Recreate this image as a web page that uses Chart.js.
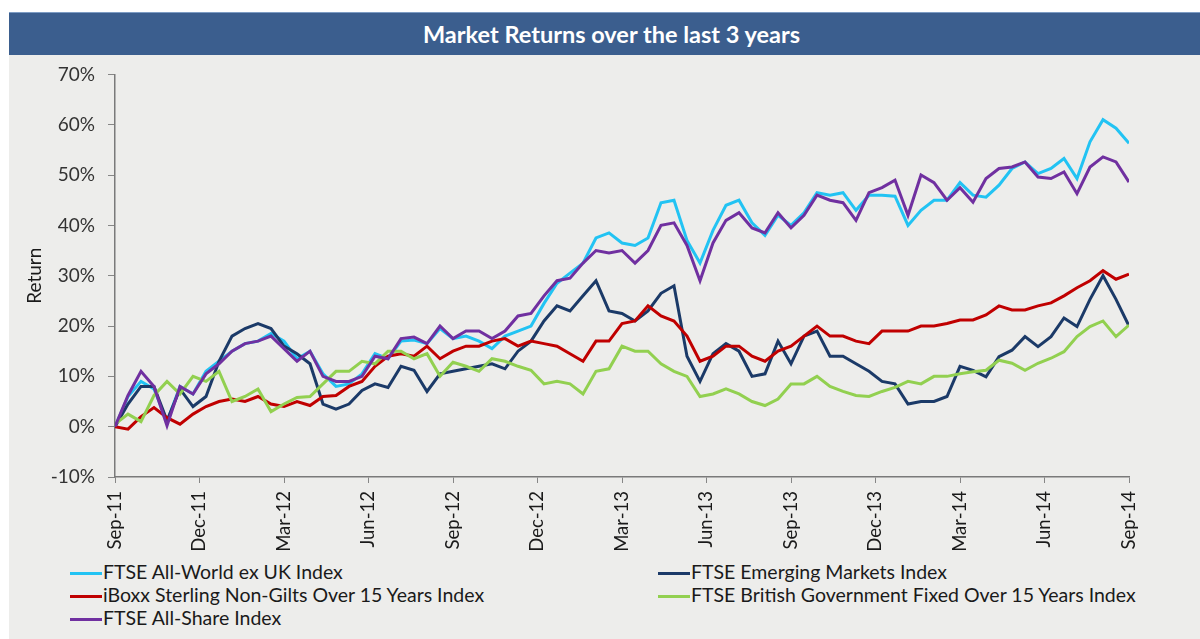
<!DOCTYPE html>
<html>
<head>
<meta charset="utf-8">
<script src="https://cdn.jsdelivr.net/npm/chart.js@4"></script>
<style>
  body { margin: 0; background: #fff; width: 1200px; height: 639px; overflow: hidden; position: relative; font-family: Lato, "Open Sans", sans-serif; }
  #frame { position: absolute; left: 9px; top: 12px; width: 1191px; height: 627px; background: #ededeb; }
  #title { position: absolute; left: 9px; top: 12px; width: 1191px; height: 43px; background: #3b5e8e; border-top: 1px solid #7d9cc4;
           color: #fff; font-weight: bold; font-size: 23.5px; line-height: 42px; text-align: center; padding-left: 14px; box-sizing: border-box; }
  #wrap { position: absolute; left: 0; top: 50px; width: 1200px; height: 510px; }
  .leg { position: absolute; font-size: 19.5px; color: #1a1a1a; line-height: 20px; white-space: nowrap; }
  .leg span.ln { display: inline-block; width: 32px; height: 3px; vertical-align: middle; margin-right: 1px; position: relative; top: -1px; }
</style>
</head>
<body>
<div id="frame"></div>
<div id="title">Market Returns over the last 3 years</div>
<div id="wrap"><canvas id="myChart" width="1200" height="510"></canvas></div>
<div id="legend"></div>
<script>
// quarter labels on the x axis (one every 13 weeks)
var quarters = ["Sep-11", "Dec-11", "Mar-12", "Jun-12", "Sep-12", "Dec-12", "Mar-13",
  "Jun-13", "Sep-13", "Dec-13", "Mar-14", "Jun-14", "Sep-14"];

// cumulative return in %, one value every 2 weeks from Sep-11
var allWorld = [0, 6, 9, 7.5, 1, 8, 6.5, 11, 13, 15, 16.5, 17, 18.5, 17,
  13.5, 15, 10.5, 8, 8.5, 10.5, 14.5, 13.5, 17, 17.2, 16.5, 19.5,
  17.5, 18, 17, 15.5, 18, 19, 20, 24.5, 28.5, 30.5, 32.5, 37.5, 38.5,
  36.5, 36, 37.5, 44.5, 45, 37, 32.5, 39, 44, 45, 40.5, 38, 42,
  40, 42.5, 46.5, 46, 46.5, 43, 46, 46, 45.8, 40, 43, 45, 45,
  48.5, 46, 45.6, 48, 51.3, 52.6, 50.3, 51.3, 53.3, 49.3, 56.6, 61, 59.3, 56.3];

var emerging = [0, 4.5, 8, 8, 1.2, 7.5, 4, 6, 13, 18, 19.5, 20.5, 19.5, 16,
  14.5, 12.5, 4.5, 3.5, 4.5, 7.2, 8.5, 7.8, 12, 11.2, 7, 10.5,
  11, 11.5, 12, 12.5, 11.5, 15, 17, 21, 24, 23, 26, 29, 23,
  22.5, 21, 23, 26.5, 28, 14, 9, 14.5, 16.5, 15, 10, 10.5, 17,
  12.5, 18, 19, 14, 14, 12.5, 11, 9, 8.5, 4.5, 5, 5, 6,
  12, 11.2, 9.9, 13.9, 15.2, 17.9, 15.9, 17.9, 21.6, 19.9, 25.3, 30, 25.3, 20];

var nonGilts = [0, -0.5, 2, 3.8, 1.8, 0.5, 2.5, 4, 5, 5.5, 5, 6, 4.5, 4,
  5, 4.2, 6, 6.2, 8, 9, 12, 14, 14.5, 14, 16, 13.5,
  15, 16, 16, 17, 17.5, 16, 17, 16.5, 16, 14.5, 13, 17, 17,
  20.5, 21, 24, 22, 21, 18, 13, 14, 16, 16, 14, 13, 15,
  16, 18, 20, 18, 18, 17, 16.5, 19, 19, 19, 20, 20, 20.5,
  21.2, 21.2, 22.2, 24, 23.2, 23.2, 24, 24.6, 26, 27.6, 29, 31, 29.3, 30.3];

var gilts = [0.5, 2.5, 1, 6.2, 9, 6.5, 10, 9, 11, 5, 6, 7.5, 3, 4.5,
  5.8, 6, 8.5, 11, 11, 13, 12.5, 15, 15, 13.5, 14.5, 10,
  12.8, 12, 11, 13.5, 13, 12, 11.2, 8.5, 9, 8.5, 6.5, 11, 11.5,
  16, 15, 15, 12.5, 11, 10, 6, 6.5, 7.5, 6.5, 5, 4.2, 5.5,
  8.5, 8.5, 10, 8, 7, 6.2, 6, 7, 7.8, 9, 8.5, 10, 10,
  10.5, 10.9, 11.2, 13.2, 12.6, 11.2, 12.6, 13.6, 14.9, 17.9, 19.9, 21, 17.9, 20.2];

var allShare = [0, 6.2, 11, 8, 0.2, 8, 6.5, 10.5, 12.5, 15, 16.5, 17, 18, 15.5,
  13, 15, 10, 9, 9, 10, 14, 13.5, 17.5, 17.8, 16.5, 20,
  17.5, 19, 19, 17.5, 19, 22, 22.5, 26, 29, 29.5, 32.5, 35, 34.5,
  35, 32.5, 35, 40, 40.5, 36, 29, 36.5, 41, 42.5, 39.5, 38.5, 42.5,
  39.5, 42, 46, 45, 44.5, 41, 46.5, 47.5, 49, 42, 50, 48.5, 45,
  47.5, 44.6, 49.3, 51.3, 51.6, 52.6, 49.6, 49.3, 50.6, 46.3, 51.6, 53.6, 52.6, 48.6];

var seriesNames = ["FTSE All-World ex UK Index", "FTSE Emerging Markets Index",
  "iBoxx Sterling Non-Gilts Over 15 Years Index", "FTSE British Government Fixed Over 15 Years Index",
  "FTSE All-Share Index"];
var seriesValues = [allWorld, emerging, nonGilts, gilts, allShare];
var seriesColors = ["#22c3f3", "#1b3a68", "#c00000", "#92d050", "#7030a0"];

var weeksPerPoint = 2;
var weeksPerQuarter = 13;

function toPoints(values) {
  return values.map(function (v, i) { return { x: i * weeksPerPoint, y: v }; });
}

var datasets = seriesValues.map(function (values, i) {
  return {
    label: seriesNames[i],
    data: toPoints(values),
    borderColor: seriesColors[i],
    backgroundColor: seriesColors[i],
    borderWidth: 3,
    pointRadius: 0,
    tension: 0,
    order: seriesValues.length - i   // later series drawn on top, like the original
  };
});

new Chart("myChart", {
  type: "line",
  data: { datasets: datasets },
  options: {
    responsive: false,
    animation: false,
    layout: { padding: { top: 4, right: 71, left: 0, bottom: 0 } },
    plugins: { legend: { display: false }, tooltip: { enabled: false } },
    scales: {
      x: {
        type: "linear",
        min: 0,
        max: (quarters.length - 1) * weeksPerQuarter,
        grid: { drawOnChartArea: false, drawTicks: true, tickLength: 6, color: "#868686" },
        border: { color: "#7a7a7a", width: 1.5 },
        ticks: {
          stepSize: weeksPerQuarter,
          autoSkip: false,
          minRotation: 90,
          maxRotation: 90,
          padding: 8,
          color: "#1a1a1a",
          font: { family: "Lato", size: 18.5 },
          callback: function (v) { return quarters[Math.round(v / weeksPerQuarter)]; }
        },
        afterFit: function (scale) { scale.height = 83; }
      },
      y: {
        min: -10,
        max: 70,
        grid: { drawOnChartArea: false, drawTicks: true, tickLength: 7, color: "#868686" },
        border: { color: "#7a7a7a", width: 1.5 },
        ticks: {
          stepSize: 10,
          padding: 13,
          color: "#333",
          font: { family: "Lato", size: 19 },
          callback: function (v) { return v + "%"; }
        },
        title: {
          display: true,
          text: "Return",
          color: "#1a1a1a",
          font: { family: "Lato", size: 19 },
          padding: { top: 23, bottom: 0 }
        },
        afterFit: function (scale) { scale.width = 115; }
      }
    }
  }
});

// legend in two columns like the original
var legendSpots = [[70, 562], [658, 562], [70, 585], [658, 585], [70, 608]];
var legendBox = document.getElementById("legend");
seriesNames.forEach(function (name, i) {
  var d = document.createElement("div");
  d.className = "leg";
  d.style.left = legendSpots[i][0] + "px";
  d.style.top = legendSpots[i][1] + "px";
  d.innerHTML = '<span class="ln" style="background:' + seriesColors[i] + '"></span>' + name;
  legendBox.appendChild(d);
});
</script>
</body>
</html>
